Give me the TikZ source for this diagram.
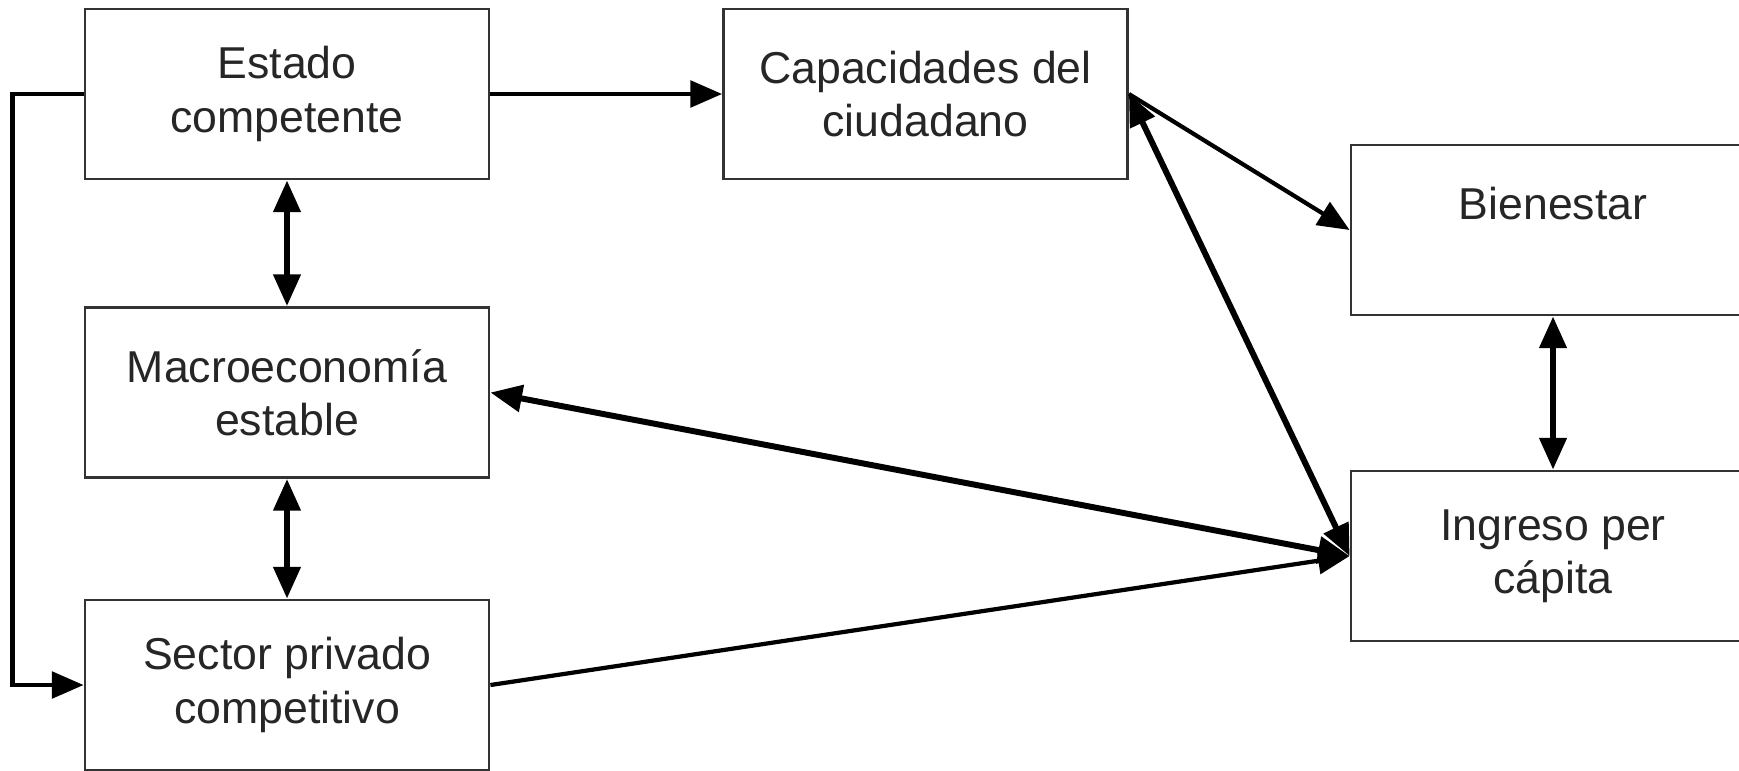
\documentclass[tikz,border=0pt]{standalone}
\usepackage{fontspec}
\setmainfont{Liberation Sans}
\usetikzlibrary{arrows.meta}

\tikzset{
  caja/.style={draw=black!80, line width=0.8pt, minimum width=4.04cm, minimum height=1.70cm,
    inner sep=0pt, align=center, text=black!85, font=\fontsize{12.7}{15.2}\selectfont},
  flecha/.style={line width=1.2pt, -{Triangle[length=9pt,width=7.5pt]}},
  doble/.style={line width=1.7pt, {Triangle[length=9pt,width=7.5pt]}-{Triangle[length=9pt,width=7.5pt]}}
}

\begin{document}
\begin{tikzpicture}
            \useasboundingbox (0,0) rectangle (17.39,-7.70);

            \node[caja] (estado) at (2.87,-0.94) {Estado\\competente};
            \node[caja] (capacidades) at (9.255,-0.94) {Capacidades del\\ciudadano};
            \node[caja] (macro) at (2.87,-3.925) {Macroeconomía\\estable};
            \node[caja] (sector) at (2.87,-6.85) {Sector privado\\competitivo};
            \node[caja] (bienestar) at (15.53,-2.30) {Bienestar\\~};
            \node[caja] (ingreso) at (15.53,-5.56) {Ingreso per\\cápita};

            \draw[flecha] (estado.east) -- (capacidades.west);
            \draw[flecha] (estado.west) -- ++(-0.71,0) |- (sector.west);
            \draw[doble] (estado.south) -- (macro.north);
            \draw[doble] (macro.south) -- (sector.north);
            \draw[doble] (bienestar.south) -- (ingreso.north);
            \draw[flecha] (capacidades.east) -- (bienestar.west);
            \draw[doble] (capacidades.east) -- (ingreso.west);
            \draw[doble] (macro.east) -- (ingreso.west);
            \draw[flecha] (sector.east) -- (ingreso.west);
        \end{tikzpicture}
\end{document}
